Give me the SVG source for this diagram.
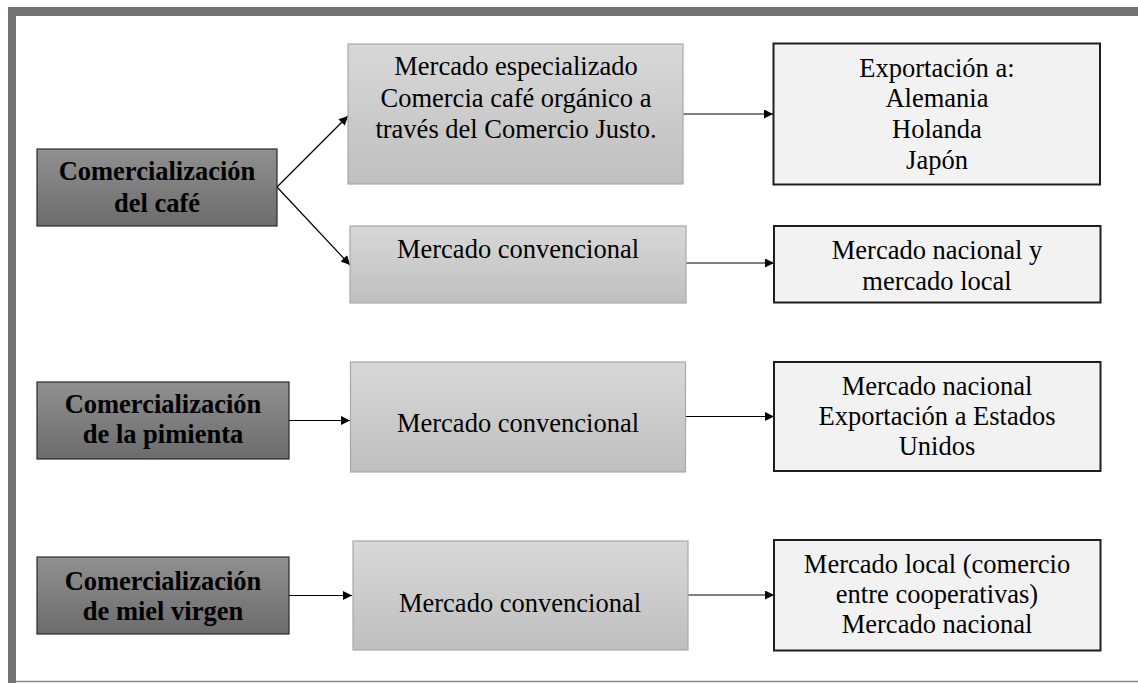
<svg xmlns="http://www.w3.org/2000/svg" width="1138" height="683" viewBox="0 0 1138 683">
<style>
.t{font-family:"Liberation Serif","Times New Roman",serif;font-size:26.5px;fill:#000;text-anchor:middle}
.b{font-weight:bold}
.left{fill:url(#gL);stroke:#2b2b2b;stroke-width:1.2}
.mid{fill:url(#gM);stroke:#a8a8a8;stroke-width:1.2}
.right{fill:#f2f2f2;stroke:#1e1e1e;stroke-width:2}
.c{stroke:#000;stroke-width:1.2;fill:none;marker-end:url(#ah)}
</style>
<defs>
<linearGradient id="gL" x1="0" y1="0" x2="0" y2="1">
<stop offset="0" stop-color="#909090"/>
<stop offset="1" stop-color="#6c6c6c"/>
</linearGradient>
<linearGradient id="gM" x1="0" y1="0" x2="0" y2="1">
<stop offset="0" stop-color="#d8d8d8"/>
<stop offset="1" stop-color="#bfbfbf"/>
</linearGradient>
<marker id="ah" viewBox="0 0 10 10" refX="10" refY="5" markerWidth="11" markerHeight="9" markerUnits="userSpaceOnUse" orient="auto">
<path d="M0,0 L10,5 L0,10 z" fill="#000"/>
</marker>
</defs>
<rect width="1138" height="683" fill="#fff"/>
<g id="frame">
<rect x="8" y="7" width="1130" height="9" fill="#767171"/>
<rect x="8" y="7" width="8" height="676" fill="#767171"/>
<line x1="16" y1="681.5" x2="1138" y2="681.5" stroke="#8a8a8a" stroke-width="1.5"/>
</g>
<g id="connectors">
<line class="c" x1="277" y1="187" x2="348" y2="116"/>
<line class="c" x1="277" y1="187" x2="350" y2="265"/>
<line class="c" x1="683" y1="114" x2="773" y2="114"/>
<line class="c" x1="686" y1="263" x2="774" y2="263"/>
<line class="c" x1="289" y1="420.5" x2="350" y2="420.5"/>
<line class="c" x1="686" y1="416.5" x2="774" y2="416.5"/>
<line class="c" x1="289" y1="595.5" x2="352" y2="595.5"/>
<line class="c" x1="688" y1="595" x2="774" y2="595"/>
</g>
<g id="n-cafe">
<rect class="left" x="37" y="149" width="240" height="77"/>
<text class="t b" x="157" y="180">Comercialización</text>
<text class="t b" x="157" y="211.5">del café</text>
</g>
<g id="n-pimienta">
<rect class="left" x="37" y="382" width="252" height="77"/>
<text class="t b" x="163" y="413">Comercialización</text>
<text class="t b" x="163" y="443">de la pimienta</text>
</g>
<g id="n-miel">
<rect class="left" x="37" y="557" width="252" height="77"/>
<text class="t b" x="163" y="590">Comercialización</text>
<text class="t b" x="163" y="620">de miel virgen</text>
</g>
<g id="n-especializado">
<rect class="mid" x="348" y="44" width="335" height="140"/>
<text class="t" x="516" y="75">Mercado especializado</text>
<text class="t" x="516" y="106.5">Comercia café orgánico a</text>
<text class="t" x="516" y="138">través del Comercio Justo.</text>
</g>
<g id="n-conv-cafe">
<rect class="mid" x="350" y="226" width="336" height="77"/>
<text class="t" x="518" y="257.5">Mercado convencional</text>
</g>
<g id="n-conv-pimienta">
<rect class="mid" x="350.5" y="362" width="335" height="110"/>
<text class="t" x="518" y="431.5">Mercado convencional</text>
</g>
<g id="n-conv-miel">
<rect class="mid" x="353" y="541" width="335" height="109"/>
<text class="t" x="520" y="611.5">Mercado convencional</text>
</g>
<g id="n-export">
<rect class="right" x="773.5" y="43.5" width="326.5" height="141"/>
<text class="t" x="937" y="76.5">Exportación a:</text>
<text class="t" x="937" y="107">Alemania</text>
<text class="t" x="937" y="138">Holanda</text>
<text class="t" x="937" y="169">Japón</text>
</g>
<g id="n-nacional-local">
<rect class="right" x="774" y="226" width="326.5" height="76.5"/>
<text class="t" x="937" y="259">Mercado nacional y</text>
<text class="t" x="937" y="290">mercado local</text>
</g>
<g id="n-nacional-eeuu">
<rect class="right" x="774" y="362" width="326.5" height="109"/>
<text class="t" x="937" y="395">Mercado nacional</text>
<text class="t" x="937" y="425">Exportación a Estados</text>
<text class="t" x="937" y="455">Unidos</text>
</g>
<g id="n-local-nacional">
<rect class="right" x="774" y="540" width="326.5" height="110.5"/>
<text class="t" x="937" y="573">Mercado local (comercio</text>
<text class="t" x="937" y="603">entre cooperativas)</text>
<text class="t" x="937" y="633">Mercado nacional</text>
</g>
</svg>
